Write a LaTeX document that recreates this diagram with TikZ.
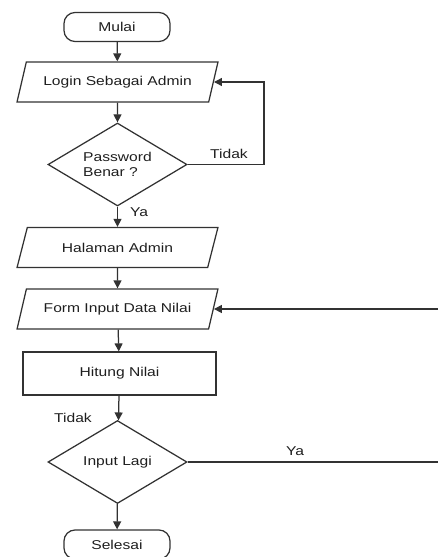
\documentclass[tikz,border=0pt]{standalone}
\usepackage{fontspec}
\setmainfont[FakeStretch=1.22]{Liberation Sans}
\usepackage{tikz}
\usetikzlibrary{positioning,arrows.meta,shapes.geometric,calc}
\definecolor{flowgray}{RGB}{50,50,50}
\definecolor{textgray}{RGB}{30,30,30}
\tikzset{
  term-node/.style={draw=flowgray, line width=1.25pt, rounded corners=11pt,
    minimum width=106pt, minimum height=29pt, font=\fontsize{12.8}{14.5}\selectfont,
    text=textgray, inner sep=2pt},
  io-node/.style={trapezium, trapezium left angle=64, trapezium right angle=116,
    trapezium stretches=true, draw=flowgray, line width=1.25pt,
    minimum width=201pt, minimum height=40pt, font=\fontsize{12.8}{14.5}\selectfont,
    text=textgray, inner sep=2pt},
  proc-node/.style={draw=flowgray, line width=1.25pt, minimum width=193pt,
    minimum height=43pt, font=\fontsize{12.8}{14.5}\selectfont, text=textgray},
  cond-node/.style={diamond, draw=flowgray, line width=1.25pt, aspect=1.67,
    minimum width=139pt, minimum height=83pt, inner sep=0pt,
    font=\fontsize{12.8}{14.5}\selectfont, text=textgray, align=left},
  flow-arrow/.style={-{Triangle[length=8pt,width=8pt]}, line width=1.25pt, draw=flowgray},
  edge-label/.style={font=\fontsize{12.8}{14.5}\selectfont, text=textgray}
}
\begin{document}
\begin{tikzpicture}[x=1pt,y=-1pt]
\useasboundingbox (0,0) rectangle (437,557);
\node[term-node] (mulai) at (117,27) {Mulai};
\node[io-node] (login) at (117.5,82) {Login Sebagai Admin};
\node[cond-node] (pass) at (117.5,164.5) {Password\\Benar ?};
\node[io-node] (halaman) at (117.5,247.5) {Halaman Admin};
\node[io-node] (form) at (117.5,309) {Form Input Data Nilai};
\node[proc-node] (hitung) at (119.5,373.5) {Hitung Nilai};
\node[cond-node] (lagi) at (117.5,462) {Input Lagi};
\node[term-node] (selesai) at (117,544.5) {Selesai};
\coordinate (loopA) at (264,164.5);
\coordinate (loopB) at (441,462);
\draw[flow-arrow] (mulai) -- (login);
\draw[flow-arrow] (login) -- (pass);
\draw[flow-arrow] (pass) -- (halaman);
\draw[flow-arrow] (halaman) -- (form);
\draw[flow-arrow] (form) -- (hitung);
\draw[flow-arrow] (hitung) -- (lagi);
\draw[flow-arrow] (lagi) -- (selesai);
\draw[flow-arrow] (pass.east) -- (loopA) |- (login.east);
\draw[flow-arrow] (lagi.east) -- (loopB) |- (form.east);
\node[edge-label] (tidak1) at (229,154) {Tidak};
\node[edge-label] (ya1) at (139,212) {Ya};
\node[edge-label] (tidak2) at (73,418) {Tidak};
\node[edge-label] (ya2) at (295,451) {Ya};
\end{tikzpicture}
\end{document}
